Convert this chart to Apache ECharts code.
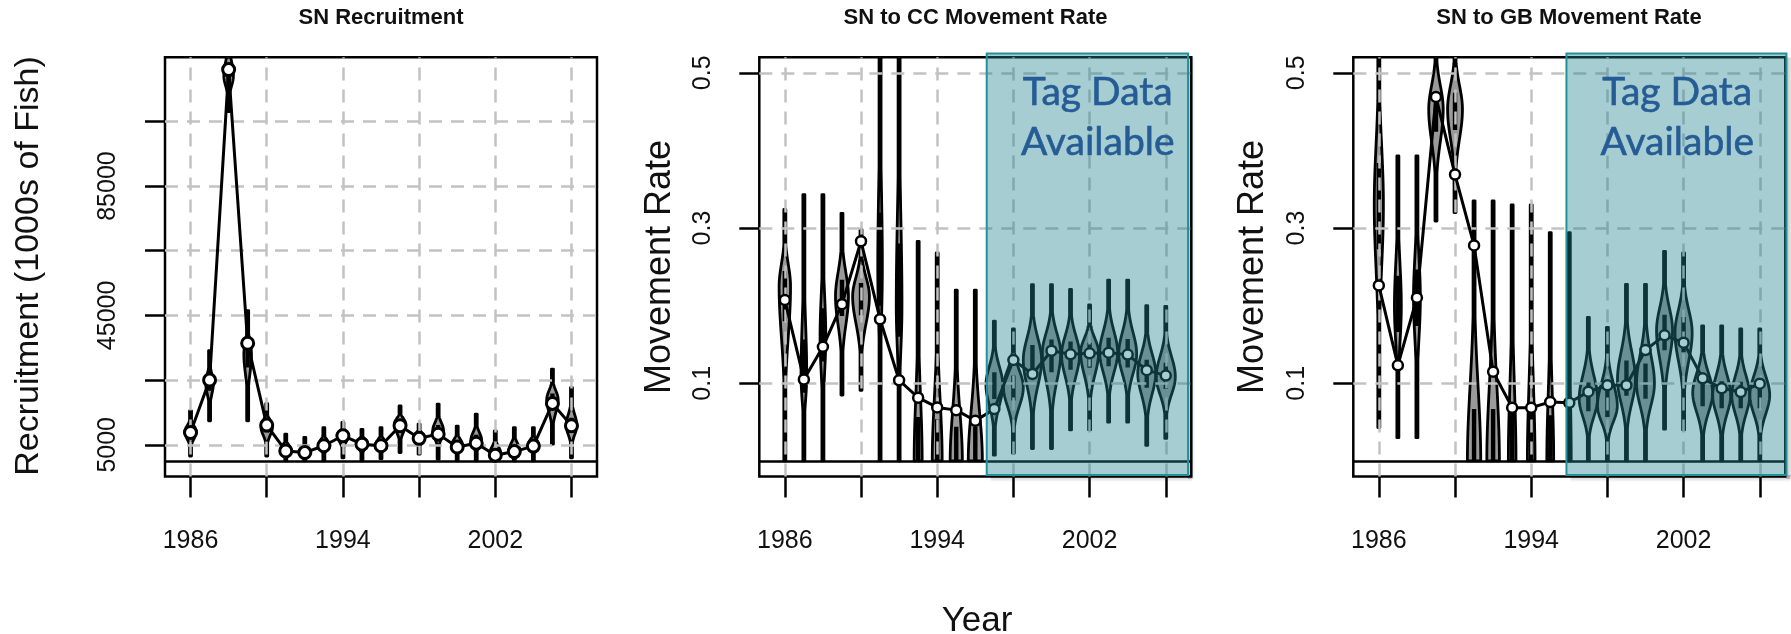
<!DOCTYPE html>
<html>
<head>
<meta charset="utf-8">
<script src="https://cdn.jsdelivr.net/npm/echarts@6/dist/echarts.min.js"></script>
<style>
  html, body { margin: 0; padding: 0; background: #ffffff; }
  #chart { width: 1791px; height: 634px; }
</style>
</head>
<body>
<div id="chart"></div>
<script>
// ---- Data -------------------------------------------------------------
const years = [1986, 1987, 1988, 1989, 1990, 1991, 1992, 1993, 1994, 1995, 1996,
               1997, 1998, 1999, 2000, 2001, 2002, 2003, 2004, 2005, 2006];

// SN recruitment (1000s of fish): median line and violin outline parameters
const recMedian = [8800, 25000, 121000, 36400, 11100, 3100, 2600, 4700, 7800, 5200, 4700,
                   10900, 7000, 8300, 4300, 5500, 1800, 2900, 4600, 17800, 10900];
const recLow    = [1500, 12400, 108000, 12400, 1500, 0, 0, 0, 1000, 0, 700,
                   2600, 2100, 500, 0, 0, 0, 0, 0, 5200, 1000];
const recHigh   = [15500, 34100, 135000, 46500, 17700, 8300, 7300, 10300, 11900, 9800, 10300,
                   17000, 11400, 17600, 10800, 14500, 9300, 10300, 10300, 28400, 22700];
const recMode   = [9000, 24000, 119000, 33000, 10500, 3500, 3000, 5000, 8000, 5500, 5000,
                   11500, 7500, 9500, 5000, 6500, 2500, 3500, 5000, 19000, 11000];
const recWidth  = [0.3, 0.2, 0.25, 0.2, 0.3, 0.28, 0.28, 0.28, 0.3, 0.28, 0.28,
                   0.3, 0.28, 0.28, 0.28, 0.28, 0.28, 0.28, 0.28, 0.3, 0.28];

// SN to CC movement rate
const ccMedian = [0.2075, 0.105, 0.147, 0.202, 0.283, 0.1826, 0.104, 0.0815, 0.069, 0.0655, 0.0518,
                  0.0668, 0.130, 0.112, 0.142, 0.1374, 0.1387, 0.1395, 0.137, 0.117, 0.110];
const ccLow    = [0, 0, 0, 0.085, 0.091, 0, 0, 0, 0, 0, 0,
                  0.0075, 0.01, 0.016, 0.016, 0.04, 0.04, 0.05, 0.05, 0.02, 0.029];
const ccHigh   = [0.324, 0.343, 0.343, 0.319, 0.298, 0.6, 0.6, 0.283, 0.268, 0.22, 0.22,
                  0.18, 0.17, 0.227, 0.227, 0.221, 0.201, 0.233, 0.233, 0.2, 0.199];
const ccMode   = [0.225, 0.11, 0.16, 0.212, 0.212, 0.25, 0.2, 0, 0, 0, 0,
                  0.098, 0.095, 0.13, 0.139, 0.137, 0.14, 0.14, 0.138, 0.113, 0.1085];
const ccWidth  = [0.3, 0.15, 0.15, 0.34, 0.44, 0.12, 0.15, 0.21, 0.26, 0.32, 0.37,
                  0.44, 0.52, 0.48, 0.48, 0.47, 0.47, 0.47, 0.47, 0.47, 0.5];

// SN to GB movement rate
const gbMedian = [0.2262, 0.1232, 0.2104, 0.469, 0.369, 0.2777, 0.115, 0.0687, 0.0687, 0.076, 0.075,
                  0.0893, 0.0975, 0.0975, 0.143, 0.1618, 0.1524, 0.1065, 0.0936, 0.0888, 0.0996];
const gbLow    = [0.043, 0.03, 0.03, 0.309, 0.32, 0, 0, 0, 0, 0, 0,
                  0, 0, 0, 0, 0.041, 0.04, 0, 0, 0, 0];
const gbHigh   = [0.6, 0.393, 0.393, 0.56, 0.56, 0.335, 0.335, 0.33, 0.33, 0.294, 0.294,
                  0.185, 0.172, 0.2275, 0.2275, 0.27, 0.268, 0.174, 0.174, 0.17, 0.17];
const gbMode   = [0.33, 0.2, 0.21, 0.453, 0.453, 0, 0, 0, 0, 0, 0,
                  0.08, 0.071, 0.105, 0.1, 0.168, 0.165, 0.088, 0.085, 0.085, 0.085];
const gbWidth  = [0.24, 0.18, 0.18, 0.38, 0.39, 0.35, 0.33, 0.2, 0.2, 0.18, 0.1,
                  0.48, 0.52, 0.47, 0.47, 0.42, 0.45, 0.52, 0.47, 0.47, 0.52];

// Axis ticks, labels and ranges
const yearTicks = [1986, 1990, 1994, 1998, 2002, 2006];
const yearLabels = [1986, 1994, 2002];
const yearRange = [1984.66, 2007.34];
const recTicks = [5000, 25000, 45000, 65000, 85000, 105000];
const recLabels = [5000, 45000, 85000];
const recRange = [-4800, 124800];
const rateTicks = [0.1, 0.3, 0.5];
const rateRange = [-0.02, 0.52];

// "Tag Data Available" shaded periods: [start, end] years, rate extent, label anchor
const tagSpanCC = [1996.6, 2007.17];
const tagSpanGB = [1995.85, 2007.4];
const tagRateExtent = [-0.018, 0.525];
const tagLabelCC = [2002.43, 0.442];
const tagLabelGB = [2001.67, 0.442];

// ---- Layout -----------------------------------------------------------
const PANEL_LEFT = [165, 759.3, 1353.3];
const PANEL_TOP = 57.3;
const PANEL_W = 432;
const PANEL_H = 419.2;
const FONT = '"Liberation Sans", Arial, sans-serif';

// ---- Renderers --------------------------------------------------------
function violinRenderer(params, api) {
  const year = api.value(0), lo = api.value(1), hi = api.value(2);
  const mode = api.value(3), half = api.value(4);
  const span = hi - lo;
  const sdDown = Math.max((mode - lo) / 3.5, span * 1e-3);
  const sdUp = Math.max((hi - mode) / 3.5, span * 1e-3);
  const cs = params.coordSys;
  const cx = api.coord([year, mode])[0];
  const halfPx = api.size([half, 0])[0];
  const steps = 90;
  const right = [], left = [];
  for (let i = 0; i <= steps; i++) {
    const v = lo + span * i / steps;
    const z = (v - mode) / (v < mode ? sdDown : sdUp);
    const w = Math.max(halfPx * Math.exp(-0.5 * z * z), 1.0);
    let py = api.coord([year, v])[1];
    py = Math.max(py, cs.y);
    right.push([cx + w, py]);
    left.unshift([cx - w, py]);
  }
  let barTop = api.coord([year, mode + 0.7 * sdUp])[1];
  const barBottom = api.coord([year, Math.max(lo, mode - 0.7 * sdDown)])[1];
  barTop = Math.max(barTop, cs.y);
  return {
    type: 'group',
    children: [
      { type: 'polygon', shape: { points: right.concat(left) },
        style: { fill: '#9a9a9a', stroke: '#000', lineWidth: 2.8, lineJoin: 'round' } },
      { type: 'rect', shape: { x: cx - 2.2, y: barTop, width: 4.4, height: Math.max(barBottom - barTop, 0) },
        style: { fill: '#000' } }
    ]
  };
}

function tagRenderer(params, api) {
  const p0 = api.coord([api.value(0), api.value(3)]);
  const p1 = api.coord([api.value(1), api.value(2)]);
  const lp = api.coord([api.value(4), api.value(5)]);
  const x = p0[0], y = p0[1], w = p1[0] - p0[0], h = p1[1] - p0[1];
  const G = echarts.graphic.LinearGradient;
  return {
    type: 'group',
    children: [
      { type: 'rect', shape: { x: x + 4, y: y + h, width: w, height: 7 },
        style: { fill: new G(0, 0, 0, 1, [{ offset: 0, color: 'rgba(0,0,0,0.25)' }, { offset: 1, color: 'rgba(0,0,0,0)' }]) } },
      { type: 'rect', shape: { x: x + w, y: y + 4, width: 7, height: h },
        style: { fill: new G(0, 0, 1, 0, [{ offset: 0, color: 'rgba(0,0,0,0.25)' }, { offset: 1, color: 'rgba(0,0,0,0)' }]) } },
      { type: 'rect', shape: { x: x, y: y, width: w, height: h },
        style: { fill: 'rgba(32,130,142,0.4)', stroke: '#23909a', lineWidth: 2 } },
      { type: 'text', style: { text: 'Tag Data\nAvailable', x: lp[0], y: lp[1], align: 'center',
        verticalAlign: 'middle', fill: '#255c95', font: '39px Lato, "Open Sans", sans-serif', lineHeight: 50,
        stroke: '#255c95', lineWidth: 0.6 } }
    ]
  };
}

// ---- Build option -----------------------------------------------------
const panels = [
  { median: recMedian, low: recLow, high: recHigh, mode: recMode, width: recWidth,
    range: recRange, ticks: recTicks, labels: recLabels, dot: 12, dotBorder: 3 },
  { median: ccMedian, low: ccLow, high: ccHigh, mode: ccMode, width: ccWidth,
    range: rateRange, ticks: rateTicks, labels: rateTicks, dot: 10, dotBorder: 2.5,
    tag: tagSpanCC, tagLabel: tagLabelCC },
  { median: gbMedian, low: gbLow, high: gbHigh, mode: gbMode, width: gbWidth,
    range: rateRange, ticks: rateTicks, labels: rateTicks, dot: 10, dotBorder: 2.5,
    tag: tagSpanGB, tagLabel: tagLabelGB }
];

const grid = [], xAxis = [], yAxis = [], series = [];
panels.forEach((p, i) => {
  grid.push({ left: PANEL_LEFT[i], top: PANEL_TOP, width: PANEL_W, height: PANEL_H,
              show: true, borderColor: '#000', borderWidth: 2.5, backgroundColor: '#fff' });
  xAxis.push({
    type: 'value', gridIndex: i, min: yearRange[0], max: yearRange[1],
    axisLine: { show: false, onZero: false }, splitLine: { show: false },
    axisTick: { show: true, customValues: yearTicks, length: 21, lineStyle: { color: '#000', width: 2.5 } },
    axisLabel: { customValues: yearLabels, margin: 52, fontSize: 25, fontFamily: FONT, color: '#111',
                 formatter: v => String(v) }
  });
  yAxis.push({
    type: 'value', gridIndex: i, min: p.range[0], max: p.range[1],
    axisLine: { show: false, onZero: false }, splitLine: { show: false },
    axisTick: { show: true, customValues: p.ticks, length: 20, lineStyle: { color: '#000', width: 2.5 } },
    axisLabel: { customValues: p.labels, rotate: 90, margin: 44, fontSize: 25, fontFamily: FONT, color: '#111',
                 formatter: v => String(v) }
  });

  series.push({
    type: 'custom', name: 'violin' + i, xAxisIndex: i, yAxisIndex: i, clip: true, z: 2,
    renderItem: violinRenderer,
    encode: { x: 0, y: [1, 2] },
    data: years.map((yr, k) => [yr, p.low[k], p.high[k], p.mode[k], p.width[k]])
  });

  series.push({
    type: 'line', name: 'grid' + i, xAxisIndex: i, yAxisIndex: i, z: 3, silent: true,
    data: years.map((yr, k) => [yr, p.median[k]]),
    showSymbol: false, lineStyle: { opacity: 0 },
    markLine: {
      silent: true, symbol: ['none', 'none'], label: { show: false },
      lineStyle: { type: [13, 9], color: '#c2c2c2', width: 2.5 },
      data: yearTicks.map(v => ({ xAxis: v }))
        .concat(p.ticks.map(v => ({ yAxis: v })))
        .concat([{ yAxis: 0, lineStyle: { type: 'solid', color: '#000', width: 2.5 } }])
    }
  });

  series.push({
    type: 'line', name: 'median' + i, xAxisIndex: i, yAxisIndex: i, z: 5, clip: true,
    data: years.map((yr, k) => [yr, p.median[k]]),
    symbol: 'circle', symbolSize: p.dot, showAllSymbol: true,
    lineStyle: { color: '#000', width: 3 },
    itemStyle: { color: '#fff', borderColor: '#000', borderWidth: p.dotBorder }
  });

  if (p.tag) {
    series.push({
      type: 'custom', name: 'tag' + i, xAxisIndex: i, yAxisIndex: i, clip: false, z: 10,
      renderItem: tagRenderer, silent: true,
      data: [[p.tag[0], p.tag[1], tagRateExtent[0], tagRateExtent[1], p.tagLabel[0], p.tagLabel[1]]]
    });
  }
});

function label(text, x, y, font, rotation) {
  return { type: 'text', x: x, y: y, rotation: rotation || 0, silent: true,
           style: { text: text, font: font, fill: '#111', align: 'center', verticalAlign: 'middle' } };
}

const option = {
  animation: false,
  backgroundColor: '#ffffff',
  grid: grid, xAxis: xAxis, yAxis: yAxis, series: series,
  graphic: [
    label('SN Recruitment', 381, 18, 'bold 22px ' + FONT),
    label('SN to CC Movement Rate', 975.5, 18, 'bold 22px ' + FONT),
    label('SN to GB Movement Rate', 1569, 18, 'bold 22px ' + FONT),
    label('Recruitment (1000s of Fish)', 29, 266, '34px ' + FONT, Math.PI / 2),
    label('Movement Rate', 660, 267, '36px ' + FONT, Math.PI / 2),
    label('Movement Rate', 1253, 267, '36px ' + FONT, Math.PI / 2),
    label('Year', 977, 621, '35px ' + FONT)
  ]
};

const chart = echarts.init(document.getElementById('chart'), null, { renderer: 'canvas' });
chart.setOption(option);
</script>
</body>
</html>
